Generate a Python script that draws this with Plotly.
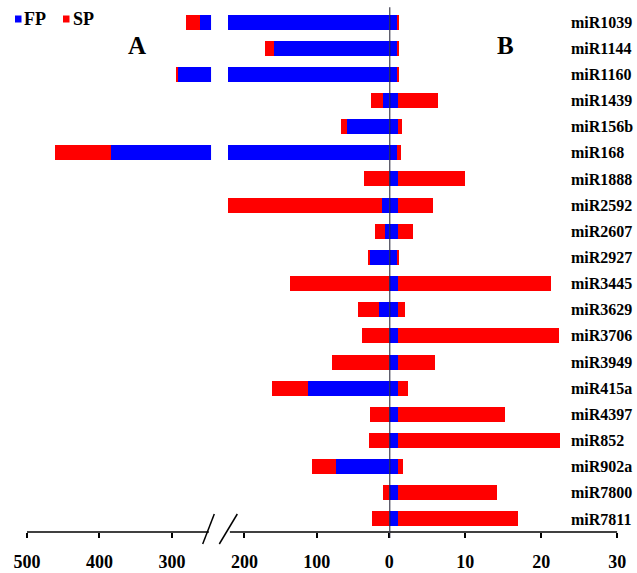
import plotly.graph_objects as go

W, H = 637, 573

categories = ["miR1039", "miR1144", "miR1160", "miR1439", "miR156b", "miR168",
              "miR1888", "miR2592", "miR2607", "miR2927", "miR3445", "miR3629",
              "miR3706", "miR3949", "miR415a", "miR4397", "miR852", "miR902a",
              "miR7800", "miR7811"]

# Panel A (left, reversed axis 500 -> 0)
fp_a = [261, 159, 292, 8.3, 59, 384, 0, 9.7, 5.9, 27.6,
        0, 13.8, 0, 0, 112, 0, 0, 73.6, 0, 0]
sp_a = [20, 12, 2.8, 17.4, 8.3, 77, 35.3, 212.5, 13.8, 2.2,
        137, 29.8, 37.7, 79.5, 50.5, 26.6, 28, 33.5, 8.3, 23.5]

# Panel B (right, 0 -> 30)
fp_b = [1.1, 1.1, 1.1, 1.18, 1.1, 1.05, 1.18, 1.18, 1.1, 1.18,
        1.18, 1.1, 1.18, 1.18, 1.1, 1.18, 1.18, 1.1, 1.18, 1.18]
sp_b = [0.18, 0.18, 0.18, 5.19, 0.53, 0.45, 8.78, 4.61, 2.06, 0.14,
        20.1, 0.97, 21.11, 4.83, 1.32, 14.08, 21.28, 0.74, 12.95, 15.79]

ticks_a = [500, 400, 300, 200, 100, 0]
ticks_b = [10, 20, 30]

BLUE = "#0000FF"
RED = "#FF0000"
FONT = "Liberation Serif, Times New Roman, serif"

def px_x(p):
    return p / W

def px_y(p):
    return 1 - p / H

fig = go.Figure()
fig.add_trace(go.Bar(y=categories, x=fp_a, orientation="h", marker_color=BLUE,
                     marker_line_width=0, xaxis="x", yaxis="y", name="FP", showlegend=False))
fig.add_trace(go.Bar(y=categories, x=sp_a, orientation="h", marker_color=RED,
                     marker_line_width=0, xaxis="x", yaxis="y", name="SP", showlegend=False))
fig.add_trace(go.Bar(y=categories, x=fp_b, orientation="h", marker_color=BLUE,
                     marker_line_width=0, xaxis="x2", yaxis="y", name="FP", showlegend=False))
fig.add_trace(go.Bar(y=categories, x=sp_b, orientation="h", marker_color=RED,
                     marker_line_width=0, xaxis="x2", yaxis="y", name="SP", showlegend=False))

y_bot = px_y(532)
y_top = px_y(9)
x_mid = 389.3

axis_common = dict(showgrid=False, zeroline=False, showline=False, ticks="outside",
                   ticklen=5, tickwidth=1.5, tickcolor="black",
                   tickfont=dict(family=FONT, size=18, color="black", weight="bold"),
                   ticklabelstandoff=8, fixedrange=True)

shapes = []
# axis break: white gap through the long bars of panel A
shapes.append(dict(type="rect", xref="x", yref="paper", x0=222.6, x1=246,
                   y0=y_bot + 0.002, y1=y_top, fillcolor="white", line_width=0, layer="above"))
# bottom axis line (broken)
shapes.append(dict(type="line", xref="x", yref="paper", x0=500, x1=249, y0=y_bot, y1=y_bot,
                   line=dict(color="black", width=1.5)))
shapes.append(dict(type="line", xref="x", yref="paper", x0=220, x1=0, y0=y_bot, y1=y_bot,
                   line=dict(color="black", width=1.5)))
shapes.append(dict(type="line", xref="x2", yref="paper", x0=0, x1=30, y0=y_bot, y1=y_bot,
                   line=dict(color="black", width=1.5)))
# break slashes
for (xa, ya, xb, yb) in [(202.7, 544, 214.3, 514), (219.3, 544, 237.3, 514)]:
    shapes.append(dict(type="line", xref="paper", yref="paper", x0=px_x(xa), y0=px_y(ya),
                       x1=px_x(xb), y1=px_y(yb), line=dict(color="black", width=1.5)))
# central vertical axis at 0
shapes.append(dict(type="line", xref="x2", yref="paper", x0=0, x1=0, y0=px_y(538), y1=px_y(7.3),
                   line=dict(color="#1a1a2e", width=2), layer="above"))
# legend squares
shapes.append(dict(type="rect", xref="paper", yref="paper", x0=px_x(15), x1=px_x(21.5),
                   y0=px_y(22.5), y1=px_y(15.5), fillcolor=BLUE, line_width=0))
shapes.append(dict(type="rect", xref="paper", yref="paper", x0=px_x(63), x1=px_x(69.5),
                   y0=px_y(22.5), y1=px_y(15.5), fillcolor=RED, line_width=0))

annotations = [
    dict(text="FP", x=px_x(22), y=px_y(19), xref="paper", yref="paper", xanchor="left",
         yanchor="middle", showarrow=False, font=dict(family=FONT, size=18, color="black", weight="bold")),
    dict(text="SP", x=px_x(70.5), y=px_y(19), xref="paper", yref="paper", xanchor="left",
         yanchor="middle", showarrow=False, font=dict(family=FONT, size=18, color="black", weight="bold")),
    dict(text="A", x=px_x(136.5), y=px_y(45), xref="paper", yref="paper", xanchor="center",
         yanchor="middle", showarrow=False, font=dict(family=FONT, size=25, color="black", weight="bold")),
    dict(text="B", x=px_x(505), y=px_y(45), xref="paper", yref="paper", xanchor="center",
         yanchor="middle", showarrow=False, font=dict(family=FONT, size=25, color="black", weight="bold")),
]

fig.update_layout(
    width=W, height=H,
    margin=dict(l=0, r=0, t=0, b=0, autoexpand=False),
    paper_bgcolor="white", plot_bgcolor="white",
    barmode="stack", bargap=0.425,
    showlegend=False,
    xaxis=dict(domain=[px_x(27), px_x(x_mid)], range=[500, 0], anchor="y",
               tickvals=ticks_a, ticktext=[str(v) for v in ticks_a], **axis_common),
    xaxis2=dict(domain=[px_x(x_mid), px_x(617.3)], range=[0, 30], anchor="y",
                tickvals=ticks_b, ticktext=[str(v) for v in ticks_b], **axis_common),
    yaxis=dict(domain=[y_bot, y_top], type="category", categoryorder="array",
               categoryarray=categories, range=[19.5, -0.5], anchor="free",
               position=px_x(570), side="right", showgrid=False, zeroline=False,
               showline=False, ticks="", fixedrange=True,
               tickfont=dict(family=FONT, size=16, color="black", weight="bold")),
    shapes=shapes,
    annotations=annotations,
)

fig.write_html("out.html")
